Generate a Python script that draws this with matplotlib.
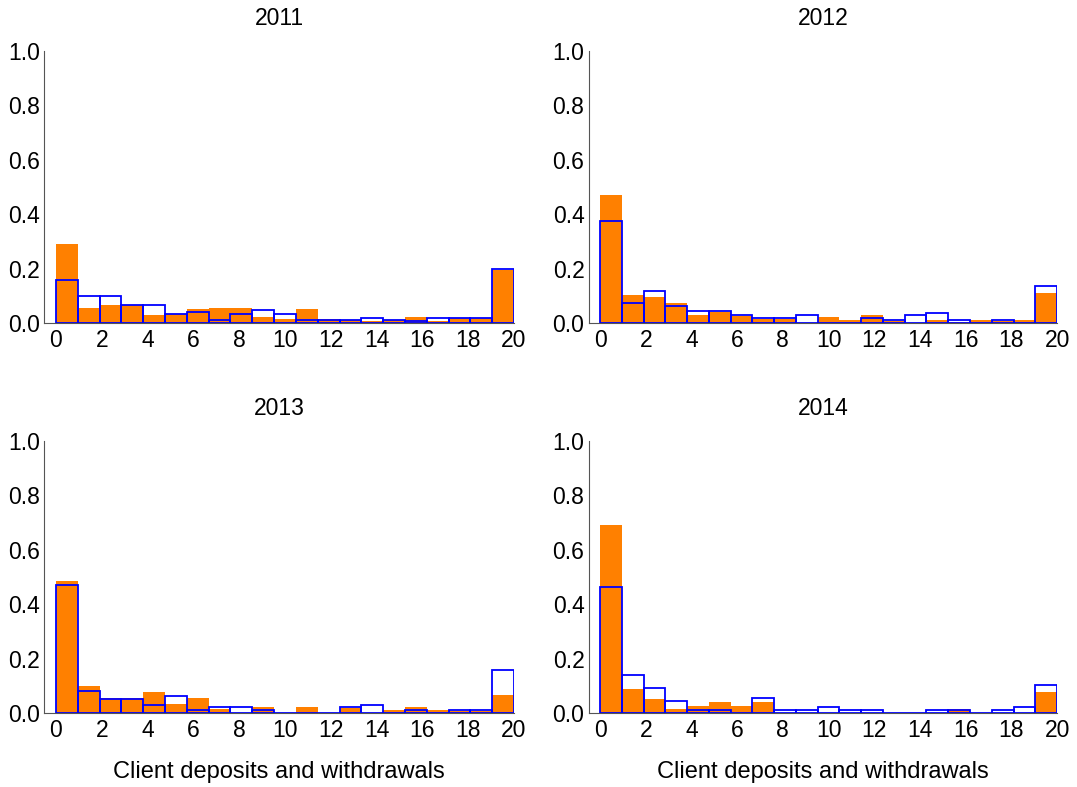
import numpy as np
import matplotlib
matplotlib.use('Agg')
import matplotlib.pyplot as plt

plt.rcParams['font.family'] = ['Liberation Sans', 'DejaVu Sans']

# 21 bins spread over 0..20
edges = np.linspace(0, 20, 22)

years = ['2011', '2012', '2013', '2014']

# orange filled bars
orange_2011 = [0.289, 0.056, 0.065, 0.067, 0.028, 0.032, 0.050, 0.056, 0.056, 0.022, 0.015,
               0.050, 0.015, 0.012, 0.007, 0.010, 0.022, 0.007, 0.017, 0.017, 0.194]
orange_2012 = [0.472, 0.102, 0.094, 0.074, 0.031, 0.039, 0.025, 0.016, 0.016, 0.0, 0.022,
               0.011, 0.031, 0.007, 0.0, 0.011, 0.005, 0.011, 0.007, 0.011, 0.110]
orange_2013 = [0.484, 0.098, 0.055, 0.055, 0.076, 0.034, 0.055, 0.015, 0.0, 0.022, 0.0,
               0.022, 0.0, 0.017, 0.0, 0.012, 0.022, 0.012, 0.006, 0.006, 0.066]
orange_2014 = [0.692, 0.089, 0.053, 0.016, 0.027, 0.039, 0.027, 0.039, 0.0, 0.0, 0.0,
               0.0, 0.0, 0.0, 0.0, 0.0, 0.016, 0.0, 0.0, 0.0, 0.077]

# blue outline bars
blue_2011 = [0.157, 0.100, 0.100, 0.067, 0.067, 0.032, 0.040, 0.012, 0.032, 0.047, 0.032,
             0.012, 0.012, 0.012, 0.018, 0.012, 0.007, 0.017, 0.017, 0.017, 0.199]
blue_2012 = [0.374, 0.074, 0.119, 0.064, 0.045, 0.045, 0.028, 0.020, 0.020, 0.028, 0.0,
             0.0, 0.020, 0.010, 0.028, 0.037, 0.010, 0.0, 0.010, 0.0, 0.137]
blue_2013 = [0.469, 0.082, 0.051, 0.051, 0.031, 0.061, 0.010, 0.021, 0.021, 0.010, 0.0,
             0.0, 0.0, 0.021, 0.031, 0.0, 0.010, 0.0, 0.010, 0.010, 0.157]
blue_2014 = [0.462, 0.138, 0.091, 0.045, 0.010, 0.010, 0.0, 0.056, 0.010, 0.010, 0.021,
             0.010, 0.010, 0.0, 0.0, 0.010, 0.010, 0.0, 0.010, 0.021, 0.104]

orange = [orange_2011, orange_2012, orange_2013, orange_2014]
blue = [blue_2011, blue_2012, blue_2013, blue_2014]

fig = plt.figure(figsize=(10.77, 7.87), dpi=100)

positions = [
    [0.0413, 0.5896, 0.436, 0.3456],
    [0.5465, 0.5896, 0.435, 0.3456],
    [0.0413, 0.0940, 0.436, 0.3456],
    [0.5465, 0.0940, 0.435, 0.3456],
]

widths = np.diff(edges)
for i in range(4):
    ax = fig.add_axes(positions[i])
    ax.bar(edges[:-1], orange[i], width=widths, align='edge', color='#ff8000',
           edgecolor='none')
    ax.bar(edges[:-1], blue[i], width=widths, align='edge', facecolor='none',
           edgecolor='#0000ff', linewidth=1.3)
    ax.set_xlim(-0.5, 20)
    ax.set_ylim(0, 1)
    ax.set_xticks(range(0, 21, 2))
    ax.set_yticks([0.0, 0.2, 0.4, 0.6, 0.8, 1.0])
    ax.set_yticklabels(['0.0', '0.2', '0.4', '0.6', '0.8', '1.0'])
    ax.spines['top'].set_visible(False)
    ax.spines['right'].set_visible(False)
    ax.spines['left'].set_color('#555555')
    ax.spines['bottom'].set_color('#555555')
    ax.tick_params(length=0, labelsize=16.5)
    ax.tick_params(axis='x', pad=4)
    ax.tick_params(axis='y', pad=3)
    ax.set_title(years[i], fontsize=16.5, pad=19)
    if i >= 2:
        ax.set_xlabel('Client deposits and withdrawals', fontsize=17, labelpad=14)

plt.savefig('out.png', dpi=100)
